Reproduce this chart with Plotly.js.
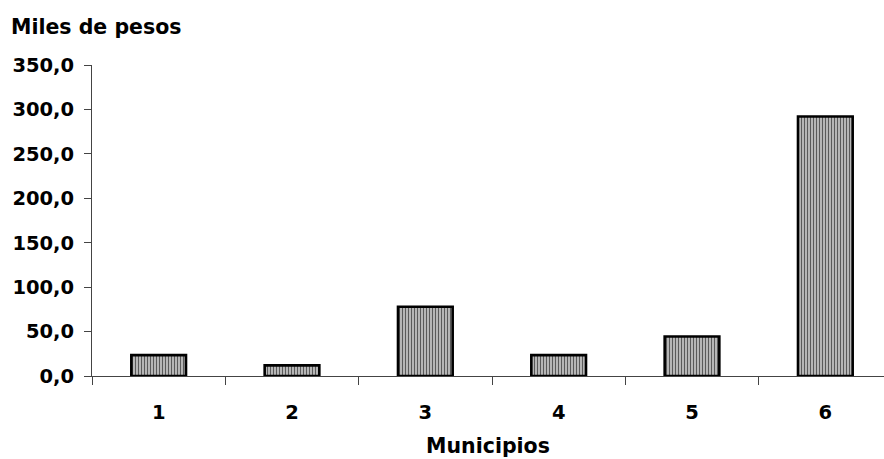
<!DOCTYPE html>
<html>
<head>
<meta charset="utf-8">
<script src="https://cdn.plot.ly/plotly-3.0.1.min.js"></script>
<style>html,body{margin:0;padding:0;background:#fff;}#chart{width:884px;height:459px;}</style>
</head>
<body>
<div id="chart"></div>
<script>
const categories = ["1", "2", "3", "4", "5", "6"];
const values = [23.5, 12.0, 78.0, 23.5, 44.5, 292.0];
const yTitle = "Miles de pesos";
const xTitle = "Municipios";

const fontFam = "DejaVu Sans, Arial, sans-serif";

const trace = {
  type: "bar",
  x: categories,
  y: values,
  width: 0.41,
  marker: {
    color: "#c4c4c4",
    line: {color: "#000", width: 2.6},
    pattern: {shape: "|", fgcolor: "#5a5a5a", bgcolor: "#c4c4c4", size: 3, solidity: 0.42}
  },
  hoverinfo: "x+y"
};

const layout = {
  width: 884,
  height: 459,
  margin: {l: 92, r: 0, t: 65, b: 83},
  paper_bgcolor: "#fff",
  plot_bgcolor: "#fff",
  showlegend: false,
  separators: ",.",
  font: {family: fontFam, color: "#000", size: 19, weight: "bold"},
  title: {
    text: "<b>" + yTitle + "</b>",
    xref: "container", yref: "container",
    x: 11 / 884, xanchor: "left",
    y: 1 - 27 / 459, yanchor: "middle",
    font: {family: fontFam, size: 20.5, color: "#000"}
  },
  xaxis: {
    type: "category",
    range: [-0.5, 5.44],
    tickson: "boundaries",
    ticks: "outside",
    ticklen: 8,
    tickcolor: "#444",
    tickwidth: 1,
    showline: true,
    linecolor: "#444",
    linewidth: 1,
    showgrid: false,
    zeroline: false,
    ticklabelstandoff: 19,
    tickfont: {family: fontFam, size: 19.5, color: "#000", weight: "bold"},
    title: {text: "<b>" + xTitle + "</b>", standoff: 15, font: {family: fontFam, size: 20.5, color: "#000"}},
    fixedrange: true
  },
  yaxis: {
    range: [0, 350],
    dtick: 50,
    tick0: 0,
    tickformat: ".1f",
    ticks: "outside",
    ticklen: 7,
    tickcolor: "#444",
    tickwidth: 1,
    showline: true,
    linecolor: "#444",
    linewidth: 1,
    showgrid: false,
    zeroline: false,
    ticklabelstandoff: 6,
    tickfont: {family: fontFam, size: 19.5, color: "#000", weight: "bold"},
    fixedrange: true
  },
  bargap: 0.59
};

Plotly.newPlot("chart", [trace], layout, {displayModeBar: false, staticPlot: true});
</script>
</body>
</html>
